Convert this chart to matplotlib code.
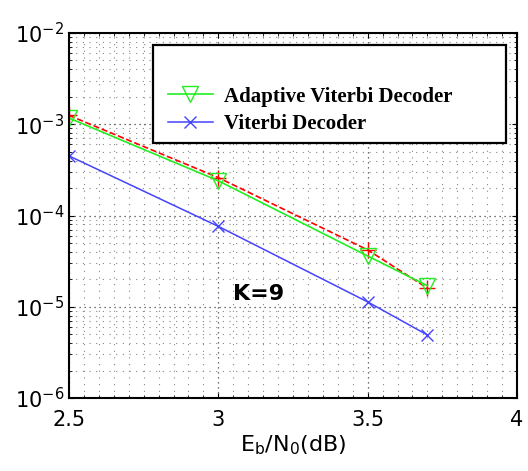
import matplotlib.pyplot as plt
import matplotlib.patches as mpatches
from matplotlib.ticker import MultipleLocator, LogLocator, NullFormatter
import numpy as np

# === DATA ===
ebno = [2.5, 3.0, 3.5, 3.7]
ber_adaptive = [1.17e-3, 2.4e-4, 3.6e-5, 1.7e-5]
ber_red = [1.25e-3, 2.6e-4, 4.2e-5, 1.6e-5]
ber_viterbi = [4.5e-4, 7.6e-5, 1.13e-5, 4.9e-6]

fig = plt.figure(figsize=(5.28, 4.71), dpi=100)
ax = fig.add_axes([69 / 528, 73 / 471, 448 / 528, 365 / 471])

ax.plot(ebno, ber_red, color="red", linestyle="--", marker="+", markersize=11,
        linewidth=1.2, label="_nolegend_")
ax.plot(ebno, ber_adaptive, color="#22ee22", marker="v", markersize=11,
        markerfacecolor="none", linewidth=1.2, label="Adaptive Viterbi Decoder")
ax.plot(ebno, ber_viterbi, color="#4444ff", marker="x", markersize=9,
        linewidth=1.1, label="Viterbi Decoder")

ax.set_yscale("log")
ax.set_xlim(2.5, 4)
ax.set_ylim(1e-6, 1e-2)
ax.set_xticks([2.5, 3, 3.5, 4])
ax.set_xticklabels(["2.5", "3", "3.5", "4"])
ax.xaxis.set_minor_locator(MultipleLocator(0.05))
ax.yaxis.set_major_locator(LogLocator(base=10, numticks=10))
ax.yaxis.set_minor_locator(LogLocator(base=10, subs=np.arange(2, 10), numticks=20))
ax.yaxis.set_minor_formatter(NullFormatter())

ax.grid(True, which="major", linestyle=(0, (1, 3)), color="#444444", linewidth=0.9)
ax.grid(True, which="minor", linestyle=(0, (1, 5)), color="#888888", linewidth=0.8)
ax.tick_params(which="both", direction="in", labelsize=15, top=True, right=True)
ax.tick_params(axis="x", pad=9)
ax.tick_params(which="minor", length=2)
for s in ax.spines.values():
    s.set_linewidth(1.5)

ax.set_xlabel(r"E$_\mathrm{b}$/N$_\mathrm{0}$(dB)", fontsize=16, labelpad=2)
ax.text(3.05, 1.2e-5, "K=9", fontsize=16, fontweight="bold")

# legend box (larger than its two visible entries)
frame = mpatches.Rectangle(((153 - 69) / 448, (398 - 143) / 365), (506 - 153) / 448,
                           (143 - 45) / 365, transform=ax.transAxes,
                           facecolor="white", edgecolor="black", linewidth=1.6, zorder=5)
ax.add_patch(frame)
leg = ax.legend(loc="upper left", bbox_to_anchor=((153 - 69) / 448, (398 - 72) / 365),
                frameon=False, prop={"family": "Liberation Serif", "weight": "bold", "size": 15},
                handlelength=2.2, handletextpad=0.5, labelspacing=0.35, borderpad=0.2)
leg.set_zorder(6)

fig.savefig("out.png", dpi=100)
